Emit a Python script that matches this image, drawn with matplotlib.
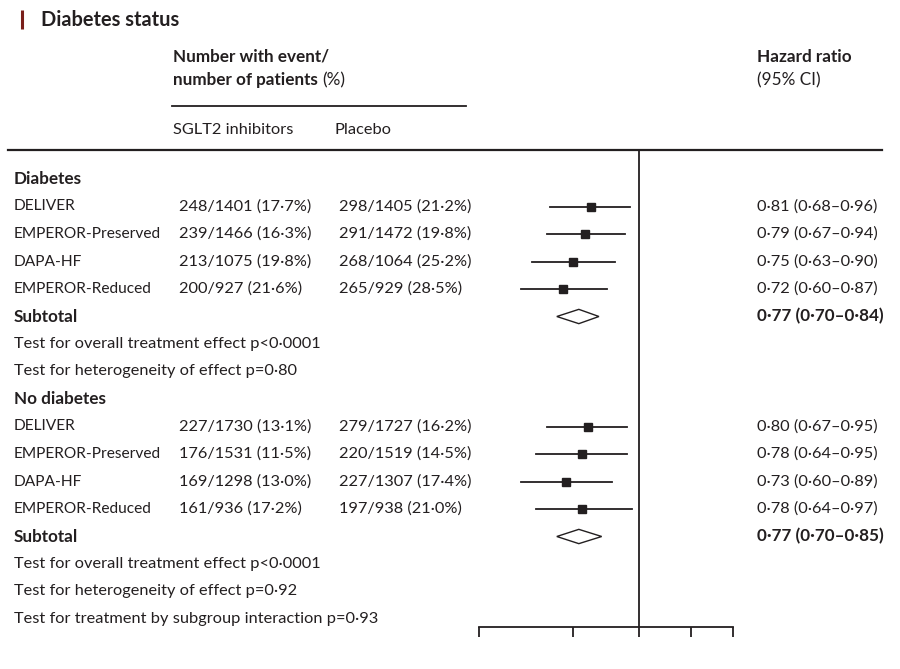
import matplotlib
matplotlib.use("Agg")
import matplotlib.pyplot as plt
from matplotlib.patches import Polygon

plt.rcParams['font.family'] = ['Lato', 'DejaVu Sans']

# data
trials = ['DELIVER', 'EMPEROR-Preserved', 'DAPA-HF', 'EMPEROR-Reduced']

diab_ev_sglt2 = [248, 239, 213, 200]
diab_n_sglt2 = [1401, 1466, 1075, 927]
diab_ev_plac = [298, 291, 268, 265]
diab_n_plac = [1405, 1472, 1064, 929]
diab_hr = [0.81, 0.79, 0.75, 0.72]
diab_lo = [0.68, 0.67, 0.63, 0.60]
diab_hi = [0.96, 0.94, 0.90, 0.87]
diab_sub = (0.77, 0.70, 0.84)
diab_tests = ['Test for overall treatment effect p<0·0001',
              'Test for heterogeneity of effect p=0·80']

nodiab_ev_sglt2 = [227, 176, 169, 161]
nodiab_n_sglt2 = [1730, 1531, 1298, 936]
nodiab_ev_plac = [279, 220, 227, 197]
nodiab_n_plac = [1727, 1519, 1307, 938]
nodiab_hr = [0.80, 0.78, 0.73, 0.78]
nodiab_lo = [0.67, 0.64, 0.60, 0.64]
nodiab_hi = [0.95, 0.95, 0.89, 0.97]
nodiab_sub = (0.77, 0.70, 0.85)
nodiab_tests = ['Test for overall treatment effect p<0·0001',
                'Test for heterogeneity of effect p=0·92',
                'Test for treatment by subgroup interaction p=0·93']

xticks = [0.5, 0.75, 1, 1.25, 1.5]

TXT = '#231f20'
FS = 11.8    # regular text
FN = 11.2    # trial names
FB = 12.3    # bold text


def dot(s):
    return s.replace('.', '·')


def counts(e, n):
    return dot(f"{e}/{n} ({100 * e / n:.1f}%)")


def hr_txt(h, l, u):
    return dot(f"{h:.2f} ({l:.2f}–{u:.2f})")


fig = plt.figure(figsize=(9, 6.69), dpi=100)
W, H = 900, 669

# background axes in pixel coordinates for the table text
ax0 = fig.add_axes([0, 0, 1, 1])
ax0.set_xlim(0, W)
ax0.set_ylim(H, 0)
ax0.axis('off')

# forest axes, log scale, rows as y
top, bot = 150, 627
y0, dy = 179, 27.5
ax = fig.add_axes([479 / W, (H - bot) / H, 254 / W, (bot - top) / H])
ax.set_xscale('log')
ax.set_xlim(0.5, 1.5)
ax.set_ylim((bot - y0) / dy, (top - y0) / dy)
for s in ['top', 'right', 'left']:
    ax.spines[s].set_visible(False)
ax.spines['bottom'].set_linewidth(1.3)
ax.spines['bottom'].set_color(TXT)
ax.set_xticks(xticks)
ax.set_xticks([], minor=True)
ax.tick_params(axis='x', direction='out', length=7.5, width=1.3,
               color=TXT, labelbottom=False)
ax.set_yticks([])
ax.patch.set_alpha(0)
ax.axvline(1, color=TXT, lw=1.3)


def ypx(i):
    return y0 + dy * i


# title
ax0.plot([22, 22], [10, 29], color='#7a1f1a', lw=2.2, solid_capstyle='butt')
ax0.text(41, 20, 'Diabetes status', fontsize=14.4, fontweight='bold',
         color=TXT, va='center')

# header
ax0.text(173, 57, 'Number with event/', fontsize=FB, fontweight='bold',
         color=TXT, va='center')
t = ax0.text(173, 80, 'number of patients ', fontsize=FB, fontweight='bold',
             color=TXT, va='center')
ax0.annotate('(%)', xycoords=t, xy=(1, 0.5), va='center', fontsize=FB,
             color=TXT)
ax0.text(757, 57, 'Hazard ratio', fontsize=FB, fontweight='bold',
         color=TXT, va='center')
ax0.text(757, 80, '(95% CI)', fontsize=FB, color=TXT, va='center')
ax0.plot([172, 466], [106, 106], color=TXT, lw=1.3)
ax0.text(173, 130, 'SGLT2 inhibitors', fontsize=FS, color=TXT, va='center')
ax0.text(334, 130, 'Placebo', fontsize=FS, color=TXT, va='center')
ax0.plot([8, 882], [150, 150], color=TXT, lw=1.6)


def block(start, label, es, ns, ep, npl, hr, lo, hi, sub, tests):
    i = start
    ax0.text(14, ypx(i), label, fontsize=FB, fontweight='bold', color=TXT,
             va='center')
    i += 1
    for k in range(len(trials)):
        ax0.text(14, ypx(i), trials[k], fontsize=FN, color=TXT, va='center')
        ax0.text(179, ypx(i), counts(es[k], ns[k]), fontsize=FS, color=TXT,
                 va='center')
        ax0.text(339, ypx(i), counts(ep[k], npl[k]), fontsize=FS, color=TXT,
                 va='center')
        ax0.text(757, ypx(i), hr_txt(hr[k], lo[k], hi[k]), fontsize=FS,
                 color=TXT, va='center')
        ax.plot([lo[k], hi[k]], [i, i], color=TXT, lw=1.3)
        ax.plot(hr[k], i, marker='s', ms=5.5, color=TXT, mec=TXT)
        i += 1
    ax0.text(14, ypx(i), 'Subtotal', fontsize=FB, fontweight='bold',
             color=TXT, va='center')
    ax0.text(757, ypx(i), hr_txt(*sub), fontsize=FB, fontweight='bold',
             color=TXT, va='center')
    h, l, u = sub
    dh = 0.26
    ax.add_patch(Polygon([(l, i), (h, i - dh), (u, i), (h, i + dh)],
                         closed=True, fc='white', ec=TXT, lw=1.0, zorder=3))
    i += 1
    for tx in tests:
        ax0.text(14, ypx(i), tx, fontsize=FS, color=TXT, va='center')
        i += 1
    return i


nxt = block(0, 'Diabetes', diab_ev_sglt2, diab_n_sglt2, diab_ev_plac,
            diab_n_plac, diab_hr, diab_lo, diab_hi, diab_sub, diab_tests)
block(nxt, 'No diabetes', nodiab_ev_sglt2, nodiab_n_sglt2, nodiab_ev_plac,
      nodiab_n_plac, nodiab_hr, nodiab_lo, nodiab_hi, nodiab_sub, nodiab_tests)

fig.savefig('out.png', dpi=100)
